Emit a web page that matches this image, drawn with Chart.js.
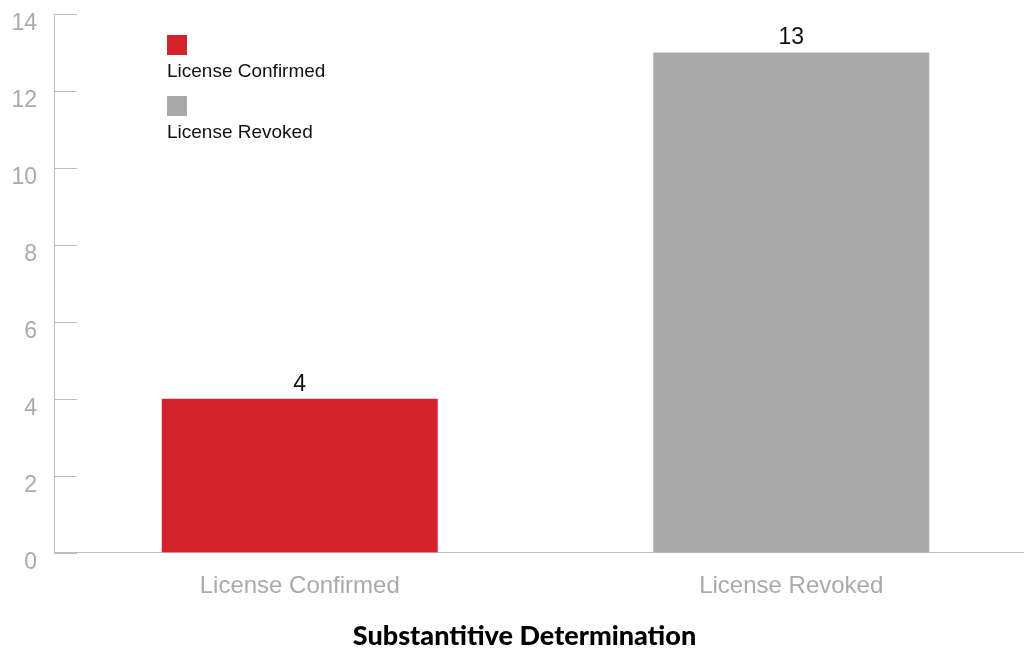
<!DOCTYPE html>
<html>
<head>
<meta charset="utf-8">
<script src="https://cdn.jsdelivr.net/npm/chart.js@4"></script>
<style>
  html, body { margin: 0; padding: 0; background: #fff; overflow: hidden; }
  #wrap { width: 1037px; height: 652px; }
</style>
</head>
<body>
<div id="wrap"><canvas id="chart"></canvas></div>
<script>
const categories = ['License Confirmed', 'License Revoked'];
const counts = [4, 13];
const barColors = ['#d4232b', '#aaaaaa'];
const yTicks = [0, 2, 4, 6, 8, 10, 12, 14];
const titleText = 'Substantitive Determination';

// small tick marks pointing into the plot, like the original
const innerTicks = {
    id: 'innerTicks',
    afterDraw(chart) {
        const ctx = chart.ctx;
        const y = chart.scales.y;
        const area = chart.chartArea;
        ctx.save();
        ctx.strokeStyle = '#bbbbbb';
        ctx.lineWidth = 1;
        yTicks.forEach(v => {
            const py = Math.round(y.getPixelForValue(v)) + 0.5;
            ctx.beginPath();
            ctx.moveTo(area.left, py);
            ctx.lineTo(area.left + 23, py);
            ctx.stroke();
        });
        ctx.restore();
    }
};

// value labels above bars
const barValues = {
    id: 'barValues',
    afterDatasetsDraw(chart) {
        const ctx = chart.ctx;
        const meta = chart.getDatasetMeta(0);
        ctx.save();
        ctx.fillStyle = '#111';
        ctx.font = '23px "Liberation Sans", Arial, sans-serif';
        ctx.textAlign = 'center';
        ctx.textBaseline = 'alphabetic';
        meta.data.forEach((bar, i) => {
            ctx.fillText(String(counts[i]), bar.x, bar.y - 8);
        });
        ctx.restore();
    }
};

// stacked legend: swatch above its label
const stackedLegend = {
    id: 'stackedLegend',
    afterDraw(chart) {
        const ctx = chart.ctx;
        const x0 = 167;
        ctx.save();
        ctx.font = '19px "Liberation Sans", Arial, sans-serif';
        ctx.textBaseline = 'alphabetic';
        ctx.textAlign = 'left';
        categories.forEach((c, i) => {
            const top = 35 + i * 61;
            ctx.fillStyle = barColors[i];
            ctx.fillRect(x0, top, 20, 20);
            ctx.fillStyle = '#111';
            ctx.fillText(c, x0, top + 42);
        });
        ctx.restore();
    }
};

new Chart(document.getElementById('chart'), {
    type: 'bar',
    data: {
        labels: categories,
        datasets: [{
            label: 'Count',
            data: counts,
            backgroundColor: barColors,
            borderWidth: 0,
            categoryPercentage: 1,
            barPercentage: 0.5615
        }]
    },
    options: {
        responsive: true,
        maintainAspectRatio: false,
        animation: false,
        layout: { padding: { top: 14, left: 12, right: 0, bottom: 0 } },
        plugins: {
            legend: { display: false },
            tooltip: { enabled: false },
            title: {
                display: true,
                position: 'bottom',
                text: titleText,
                color: '#000',
                font: { family: 'Lato', size: 27, weight: 900 },
                padding: { top: 19, bottom: 0 }
            }
        },
        scales: {
            x: {
                grid: { display: false, drawTicks: false },
                border: { color: '#bbbbbb', width: 1 },
                ticks: {
                    color: '#aaaaaa',
                    font: { family: 'Liberation Sans', size: 24 },
                    padding: 19,
                    maxRotation: 0
                },
                afterFit(scale) {
                    scale.paddingLeft = 0;
                    scale.paddingRight = 0;
                    scale.height = 48;
                }
            },
            y: {
                min: 0,
                max: 14,
                afterBuildTicks(scale) {
                    scale.ticks = yTicks.map(v => ({ value: v }));
                },
                grid: { display: false, drawTicks: false },
                border: { color: '#bbbbbb', width: 1 },
                ticks: {
                    color: '#aaaaaa',
                    font: { family: 'Liberation Sans', size: 23 },
                    padding: 17,
                    labelOffset: 10
                },
                afterFit(scale) {
                    scale.paddingTop = 0;
                    scale.paddingBottom = 0;
                    scale.width = 42;
                }
            }
        }
    },
    plugins: [innerTicks, barValues, stackedLegend]
});
</script>
</body>
</html>
